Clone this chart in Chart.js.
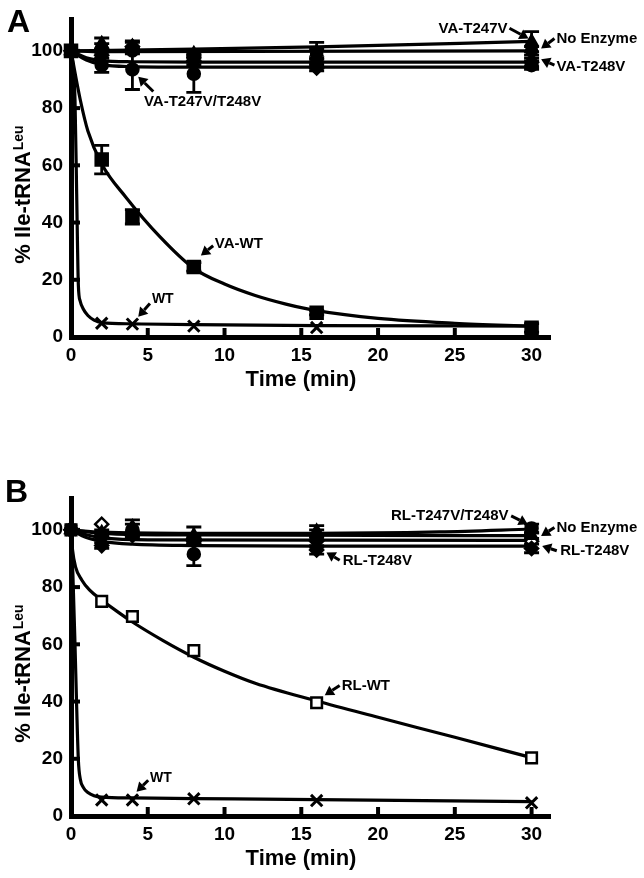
<!DOCTYPE html>
<html><head><meta charset="utf-8">
<script src="https://cdn.jsdelivr.net/npm/chart.js@4/dist/chart.umd.min.js"></script>
<style>
html,body{margin:0;padding:0;background:#fff;width:644px;height:878px;overflow:hidden}
.wrap{position:absolute;left:0;width:644px;height:399px}
canvas{display:block}
</style></head><body>
<div class="wrap" style="top:0"><canvas id="cA" width="644" height="399"></canvas></div>
<div class="wrap" style="top:479px"><canvas id="cB" width="644" height="399"></canvas></div>
<script>
// ---------- shared ----------
const times = [0, 2, 4, 8, 16, 30];
const xTicks = [0, 5, 10, 15, 20, 25, 30];
const yTicks = [0, 20, 40, 60, 80, 100];
const xTitle = 'Time (min)';
const yTitleMain = '% Ile-tRNA';
const yTitleSup = 'Leu';

// ---------- Panel A : measured points ----------
const aNoEnzyme = [100, 101, 100, 97.5, 99, 100];
const aNoEnzymeErr = [0, 1.5, 1, 1.5, 1.5, 1.5];
const aT247V = [100, 102.5, 101.5, 99, 99.5, 103.2];
const aT247VErr = [0, 2, 1.5, 1.5, 3.5, 3.5];
const aT248V = [100, 98.5, 101.5, 96.5, 94, 96];
const aT248VErr = [0, 2, 2, 1.5, 1, 1.5];
const aDouble = [100, 95, 93.5, 92, 95.5, 95];
const aDoubleErr = [0, 2.5, 7, 6.5, 1.5, 1.5];
const aVAWT = [100, 62, 42, 24.5, 8.5, 3.2];
const aVAWTErr = [0, 5, 2.5, 1.5, 0.8, 1.5];
const aWT = [100, 4.8, 4.5, 3.8, 3.3, 3.0];

// ---------- Panel A : fitted curves ----------
const aFitNoEnzT = [0, 2, 30];
const aFitNoEnzV = [100, 99.7, 100];
const aFitT247VT = [0, 8, 16, 30];
const aFitT247VV = [100, 100.6, 101.4, 103.3];
const aFitT248VT = [0, 1, 2, 4, 8, 30];
const aFitT248VV = [100, 97.6, 96.6, 96.2, 96.1, 96.1];
const aFitDoubleT = [0, 1, 2, 4, 8, 30];
const aFitDoubleV = [100, 96.8, 95.2, 94.5, 94.3, 94.3];
const aFitVAWTT = [0, 0.6, 1.1, 2, 3.6, 5.8, 8, 10, 12, 14, 16, 20, 25, 30];
const aFitVAWTV = [100, 83, 72, 60.5, 48.7, 35, 24, 18.5, 14.5, 11.5, 9.2, 6.5, 4.8, 3.8];
const aFitWTT = [0, 0.15, 0.26, 0.37, 0.48, 0.6, 0.8, 1.1, 1.5, 2, 4, 8, 16, 30];
const aFitWTV = [100, 94, 83, 50, 18, 12.5, 9.8, 7.5, 5.9, 5.0, 4.6, 4.3, 4.0, 3.8];

// ---------- Panel B : measured points ----------
const bDouble = [100, 98, 100, 91.5, 97, 100.5];
const bDoubleErr = [0, 1, 2, 4, 3, 1.5];
const bNoEnzyme = [100, 99, 101, 98, 99.5, 98];
const bNoEnzymeErr = [0, 1, 2.5, 3, 2, 1];
const bT248V = [100, 94.5, 98, 96, 93, 93.5];
const bT248VErr = [0, 1, 1, 1.5, 1.5, 1.5];
const bT247V = [100, 102, 99, 97, 96, 96];
const bRLWT = [100, 75, 69.7, 57.8, 39.6, 20.3];
const bWT = [100, 5.6, 5.6, 6.0, 5.4, 4.6];

// ---------- Panel B : fitted curves ----------
const bFitDoubleT = [0, 2, 8, 16, 24, 30];
const bFitDoubleV = [100, 99.2, 98.8, 98.8, 99.3, 100.3];
const bFitNoEnzT = [0, 2, 8, 30];
const bFitNoEnzV = [100, 98.8, 98.2, 98];
const bFitT248VT = [0, 1, 2, 4, 8, 16, 30];
const bFitT248VV = [100, 97.3, 96, 95, 94.5, 94.3, 94.3];
const bFitT247VT = [0, 1, 2, 5, 30];
const bFitT247VV = [100, 98.3, 97.3, 96.5, 96.3];
const bFitRLWTT = [0, 0.1, 0.3, 0.7, 1.2, 2, 3, 4, 6, 8, 10, 12, 16, 20, 25, 30];
const bFitRLWTV = [100, 93, 87, 82.5, 79, 75.5, 71.5, 67.8, 61.3, 55.5, 50.6, 46.4, 40.2, 34.5, 27.5, 20.4];
const bFitWTT = [0, 0.12, 0.26, 0.37, 0.48, 0.6, 0.8, 1.1, 1.5, 2, 4, 8, 16, 30];
const bFitWTV = [100, 85, 60, 38, 19.5, 13, 10, 8.2, 7.1, 6.6, 6.3, 6.1, 5.7, 5.0];

// ---------- annotations (text + arrow, in data units) ----------
const aNotes = [
  {text:'VA-T247V', x:28.43, y:107.6, align:'right', from:[28.56,107.9], to:[29.8,104.3]},
  {text:'No Enzyme', x:31.62, y:104.2, align:'left', from:[31.49,104.3], to:[30.62,100.8]},
  {text:'VA-T248V', x:31.62, y:94.4, align:'left', from:[31.49,95.0], to:[30.62,97.1]},
  {text:'VA-T247V/T248V', x:4.75, y:82.3, align:'left', from:[5.36,85.8], to:[4.38,91.0]},
  {text:'VA-WT', x:9.37, y:32.6, align:'left', from:[9.26,31.9], to:[8.46,28.5]},
  {text:'WT', x:5.27, y:13.1, align:'left', from:[5.14,11.7], to:[4.38,7.05], small:true}
];
const bNotes = [
  {text:'RL-T247V/T248V', x:28.5, y:104.9, align:'right', from:[28.67,104.9], to:[29.75,102.0]},
  {text:'No Enzyme', x:31.62, y:100.7, align:'left', from:[31.49,100.8], to:[30.62,97.9]},
  {text:'RL-T248V', x:31.86, y:92.7, align:'left', from:[31.64,92.7], to:[30.69,94.4]},
  {text:'RL-T248V', x:17.7, y:89.2, align:'left', from:[17.5,89.4], to:[16.64,92.1]},
  {text:'RL-WT', x:17.63, y:45.6, align:'left', from:[17.5,45.6], to:[16.53,42.2]},
  {text:'WT', x:5.14, y:13.2, align:'left', from:[5.03,12.5], to:[4.27,8.5], small:true}
];

const FONT = '"Liberation Sans", Arial, Helvetica, sans-serif';

function pts(xs, ys){ return xs.map((x,i)=>({x:x, y:ys[i]})); }
function markerDs(label, values, errors, style, radius, fill, bw){
  return {type:'line', label, data:pts(times, values), showLine:false, clip:false,
    pointStyle:style, pointRadius:radius, pointHoverRadius:radius,
    pointBackgroundColor:fill, pointBorderColor:'#000', pointBorderWidth:bw || 2.5, errors};
}
function fitDs(label, xs, ys){
  return {type:'line', label, data:pts(xs, ys), borderColor:'#000', borderWidth:3.2,
    pointRadius:0, cubicInterpolationMode:'monotone', fill:false};
}

function arrow(ctx, x1, y1, x2, y2){
  const ang = Math.atan2(y2-y1, x2-x1), hl = 9, hw = 5.5;
  const bx = x2 - hl*Math.cos(ang), by = y2 - hl*Math.sin(ang);
  ctx.lineWidth = 3; ctx.lineCap = 'butt';
  ctx.beginPath(); ctx.moveTo(x1, y1); ctx.lineTo(bx, by); ctx.stroke();
  ctx.beginPath(); ctx.moveTo(x2, y2);
  ctx.lineTo(bx + hw*Math.sin(ang), by - hw*Math.cos(ang));
  ctx.lineTo(bx - hw*Math.sin(ang), by + hw*Math.cos(ang));
  ctx.closePath(); ctx.fill();
}

const decor = {
  id:'decor',
  afterDatasetsDraw(chart){
    const ctx = chart.ctx, xs = chart.scales.x, ys = chart.scales.y;
    ctx.save();
    ctx.strokeStyle = '#000'; ctx.lineWidth = 2.8;
    chart.data.datasets.forEach(ds => {
      if (!ds.errors) return;
      ds.data.forEach((p, i) => {
        const e = ds.errors[i]; if (!e) return;
        const x = xs.getPixelForValue(p.x);
        const y1 = ys.getPixelForValue(p.y + e), y2 = ys.getPixelForValue(p.y - e);
        ctx.beginPath();
        ctx.moveTo(x, y1); ctx.lineTo(x, y2);
        ctx.moveTo(x-7.5, y1); ctx.lineTo(x+7.5, y1);
        ctx.moveTo(x-7.5, y2); ctx.lineTo(x+7.5, y2);
        ctx.stroke();
      });
    });
    ctx.restore();
  },
  afterDraw(chart, args, opts){
    const ctx = chart.ctx, xs = chart.scales.x, ys = chart.scales.y, a = chart.chartArea;
    ctx.save();
    ctx.fillStyle = '#000'; ctx.strokeStyle = '#000';
    // inside tick marks
    ctx.lineWidth = 4;
    xs.ticks.forEach(t => {
      if (t.value === 0) return;
      const x = xs.getPixelForValue(t.value);
      ctx.beginPath(); ctx.moveTo(x, a.bottom); ctx.lineTo(x, a.bottom - 9); ctx.stroke();
    });
    ys.ticks.forEach(t => {
      if (t.value === 0) return;
      const y = ys.getPixelForValue(t.value);
      ctx.beginPath(); ctx.moveTo(a.left, y); ctx.lineTo(a.left + 9, y); ctx.stroke();
    });
    // annotations
    ctx.textBaseline = 'middle';
    opts.notes.forEach(n => {
      ctx.font = 'bold ' + (n.small ? 14 : 15) + 'px ' + FONT;
      ctx.textAlign = n.align;
      ctx.fillText(n.text, xs.getPixelForValue(n.x), ys.getPixelForValue(n.y));
      arrow(ctx, xs.getPixelForValue(n.from[0]), ys.getPixelForValue(n.from[1]),
                 xs.getPixelForValue(n.to[0]), ys.getPixelForValue(n.to[1]));
    });
    // x title
    ctx.font = 'bold 22px ' + FONT;
    ctx.textAlign = 'center';
    ctx.fillText(xTitle, 301, 380);
    // y title with superscript
    ctx.save();
    ctx.translate(30, 195);
    ctx.rotate(-Math.PI/2);
    ctx.textBaseline = 'alphabetic';
    ctx.textAlign = 'left';
    ctx.font = 'bold 22px ' + FONT;
    const wm = ctx.measureText(yTitleMain).width;
    ctx.font = 'bold 14px ' + FONT;
    const ws = ctx.measureText(yTitleSup).width;
    const start = -(wm + ws)/2;
    ctx.font = 'bold 22px ' + FONT;
    ctx.fillText(yTitleMain, start, 0);
    ctx.font = 'bold 14px ' + FONT;
    ctx.fillText(yTitleSup, start + wm + 1, -7);
    ctx.restore();
    // panel letter
    ctx.font = 'bold 32px ' + FONT;
    ctx.textAlign = 'left'; ctx.textBaseline = 'alphabetic';
    ctx.fillText(opts.letter, opts.letterX, opts.letterY);
    ctx.restore();
  }
};

function makeOptions(notes, letter, lx, ly){
  return {
    responsive:false, animation:false, devicePixelRatio:1,
    layout:{padding:{top:17, right:94, bottom:0, left:0}},
    plugins:{legend:{display:false}, tooltip:{enabled:false},
      decor:{notes, letter, letterX:lx, letterY:ly}},
    scales:{
      x:{type:'linear', min:0, max:31.2,
        afterBuildTicks: s => { s.ticks = xTicks.map(v => ({value:v})); },
        afterFit: s => { s.height = 62; },
        grid:{display:false, drawTicks:false},
        border:{display:true, width:5, color:'#000'},
        ticks:{color:'#000', font:{family:FONT, size:19, weight:'bold'}, padding:7, maxRotation:0, autoSkip:false}},
      y:{type:'linear', min:0, max:111,
        afterBuildTicks: s => { s.ticks = yTicks.map(v => ({value:v})); },
        afterFit: s => { s.width = 71; },
        grid:{display:false, drawTicks:false},
        border:{display:true, width:5, color:'#000'},
        ticks:{color:'#000', font:{family:FONT, size:19, weight:'bold'}, padding:8, autoSkip:false}}
    }
  };
}

new Chart(document.getElementById('cA'), {
  type:'line',
  data:{datasets:[
    markerDs('VA-T247V', aT247V, aT247VErr, 'triangle', 6.5, '#000'),
    markerDs('No Enzyme', aNoEnzyme, aNoEnzymeErr, 'circle', 5.5, '#000'),
    markerDs('VA-T248V', aT248V, aT248VErr, 'rectRot', 6.5, '#000'),
    markerDs('VA-T247V/T248V', aDouble, aDoubleErr, 'circle', 6, '#000'),
    markerDs('VA-WT', aVAWT, aVAWTErr, 'rect', 8.5, '#000'),
    markerDs('WT', aWT, null, 'crossRot', 8, '#000', 3),
    fitDs('fit No Enzyme', aFitNoEnzT, aFitNoEnzV),
    fitDs('fit VA-T247V', aFitT247VT, aFitT247VV),
    fitDs('fit VA-T248V', aFitT248VT, aFitT248VV),
    fitDs('fit VA-T247V/T248V', aFitDoubleT, aFitDoubleV),
    fitDs('fit VA-WT', aFitVAWTT, aFitVAWTV),
    fitDs('fit WT', aFitWTT, aFitWTV)
  ]},
  options: makeOptions(aNotes, 'A', 7, 32),
  plugins:[decor]
});

new Chart(document.getElementById('cB'), {
  type:'line',
  data:{datasets:[
    markerDs('RL-T247V/T248V', bDouble, bDoubleErr, 'circle', 6, '#000'),
    markerDs('No Enzyme', bNoEnzyme, bNoEnzymeErr, 'triangle', 6.5, '#000'),
    markerDs('RL-T248V', bT248V, bT248VErr, 'rectRot', 6.5, '#000'),
    markerDs('RL-T247V', bT247V, null, 'rectRot', 6.5, '#fff'),
    markerDs('RL-WT', bRLWT, null, 'rect', 7.5, '#fff'),
    markerDs('WT', bWT, null, 'crossRot', 8, '#000', 3),
    fitDs('fit RL-T247V/T248V', bFitDoubleT, bFitDoubleV),
    fitDs('fit No Enzyme', bFitNoEnzT, bFitNoEnzV),
    fitDs('fit RL-T248V', bFitT248VT, bFitT248VV),
    fitDs('fit RL-T247V', bFitT247VT, bFitT247VV),
    fitDs('fit RL-WT', bFitRLWTT, bFitRLWTV),
    fitDs('fit WT', bFitWTT, bFitWTV)
  ]},
  options: makeOptions(bNotes, 'B', 5, 23),
  plugins:[decor]
});
</script>
</body></html>
